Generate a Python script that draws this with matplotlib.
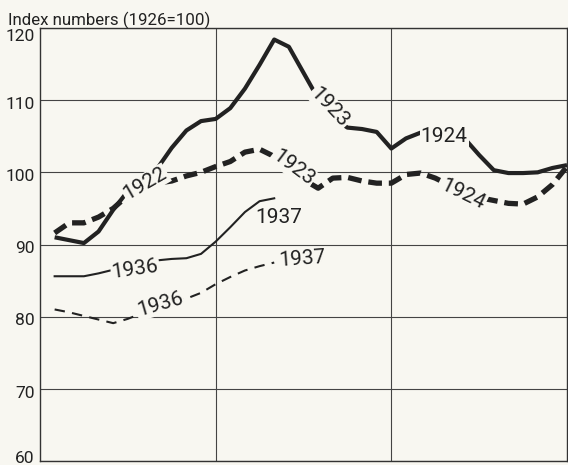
import numpy as np
import matplotlib.pyplot as plt
import matplotlib.transforms as mtransforms

plt.rcParams['font.family'] = ['Roboto', 'DejaVu Sans']

# monthly positions over three years (Jan of first year = 1)
months_long = np.arange(1, 37)
months_short = np.arange(1, 17)

solid_1922_24 = [91.0, 90.6, 90.2, 91.8, 94.8, 97.4, 99.0, 100.5, 103.4, 105.8, 107.1, 107.4,
                 108.9, 111.6, 114.9, 118.4, 117.4, 113.8, 110.2, 107.6, 106.2, 106.0, 105.6, 103.3,
                 104.7, 105.5, 105.5, 105.4, 104.7, 102.4, 100.3, 99.9, 99.9, 100.0, 100.6, 101.0]
dashed_1922_24 = [91.6, 93.0, 93.0, 93.8, 95.0, 96.8, 97.8, 98.5, 98.8, 99.5, 100.0, 100.8,
                  101.5, 102.8, 103.2, 102.2, 100.5, 99.0, 97.8, 99.2, 99.3, 98.8, 98.5, 98.5,
                  99.7, 99.9, 99.2, 98.2, 97.2, 96.5, 96.1, 95.7, 95.6, 96.6, 98.3, 100.8]
solid_1936_37 = [85.6, 85.6, 85.6, 86.0, 86.5, 87.2, 87.5, 87.8, 88.0, 88.1, 88.7, 90.4,
                 92.4, 94.5, 96.0, 96.4]
dashed_1936_37 = [81.0, 80.6, 80.1, 79.6, 79.1, 79.7, 80.5, 81.3, 82.0, 82.5, 83.3, 84.5,
                  85.5, 86.4, 87.0, 87.5]

# year labels written along the curves: (text, month, value, angle)
year_labels = [
    ('1922', 7.2, 98.4, 30),
    ('1923', 19.8, 109.0, -47),
    ('1923', 17.3, 100.7, -37),
    ('1924', 27.6, 105.0, 0),
    ('1924', 28.9, 97.0, -26),
    ('1936', 6.5, 86.6, 8),
    ('1936', 8.2, 81.7, 16),
    ('1937', 16.3, 93.7, 0),
    ('1937', 17.9, 88.0, 4),
]

bg = '#f8f7f1'
ink = '#222222'

fig = plt.figure(figsize=(5.68, 4.65), dpi=100, facecolor=bg)
ax = fig.add_axes([40 / 568, 4 / 465, 527 / 568, 433 / 465], facecolor=bg)

ax.plot(months_long, solid_1922_24, color=ink, lw=3.0, solid_capstyle='butt', zorder=3)
ax.plot(months_long, dashed_1922_24, color=ink, lw=3.8, dashes=(2.6, 1.3), zorder=3)
ax.plot(months_short, solid_1936_37, color=ink, lw=1.5, zorder=3)
ax.plot(months_short, dashed_1936_37, color=ink, lw=1.5, dashes=(5, 3.5), zorder=3)

for txt, m, v, ang in year_labels:
    ax.text(m, v, txt, rotation=ang, rotation_mode='anchor', ha='center', va='center',
            fontsize=15, color=ink, zorder=4,
            bbox=dict(boxstyle='square,pad=0.05', fc=bg, ec='none'))

ax.set_xlim(0, 36)
ax.set_ylim(60, 120)
ax.set_yticks([60, 70, 80, 90, 100, 110, 120])
ax.set_xticks([12, 24])
ax.set_xticklabels([])
ax.tick_params(axis='both', length=0, pad=4, labelsize=12.5, colors=ink)
ax.grid(True, color='#444444', lw=0.8)
for s in ax.spines.values():
    s.set_color('#333333')
    s.set_linewidth(1.0)

# nudge the top tick label down and the bottom one up so both stay clear
for lab in ax.get_yticklabels():
    val = lab.get_position()[1]
    if val == 120:
        dy = -5 / 72
    elif val == 60:
        dy = 3 / 72
    else:
        dy = -2 / 72
    lab.set_transform(lab.get_transform() + mtransforms.ScaledTranslation(0, dy, fig.dpi_scale_trans))

fig.text(8 / 568, 1 - 20 / 465, 'Index numbers (1926=100)', fontsize=12.2, color=ink,
         ha='left', va='center')

fig.savefig('out.png', dpi=100, facecolor=bg)
